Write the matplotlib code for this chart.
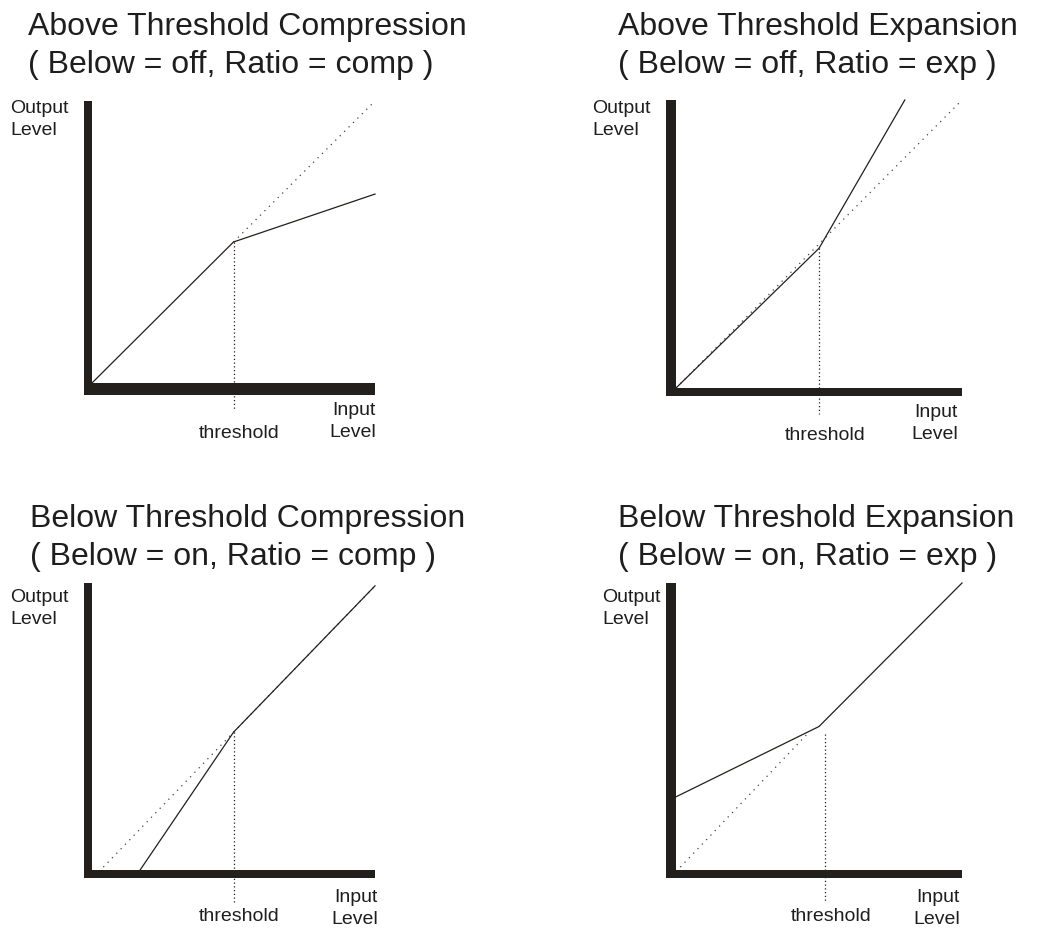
import matplotlib
matplotlib.use("Agg")
import matplotlib.pyplot as plt
from matplotlib.patches import Rectangle

# transfer-curve data, in 0..10 units (input level, output level)
titles = ["Above Threshold Compression", "Above Threshold Expansion",
          "Below Threshold Compression", "Below Threshold Expansion"]
subtitles = ["( Below = off, Ratio = comp )", "( Below = off, Ratio = exp )",
             "( Below = on, Ratio = comp )", "( Below = on, Ratio = exp )"]

curve_x = [[0, 5, 10], [0, 5, 8], [1.7, 5, 10], [0, 5, 10]]
curve_y = [[0, 5, 6.7], [0, 4.85, 10], [0, 4.8, 9.9], [2.55, 5, 10]]

ref_x = [[5, 10], [0, 10], [0.4, 5, 10], [0.15, 4.65]]
ref_y = [[5, 10], [0, 10], [0.1, 4.8, 9.9], [0.1, 4.8]]

thresh_x = [5, 5, 5, 5.2]
thresh_top = [5, 4.85, 4.8, 4.75]
thresh_bottom = [-0.95, -0.9, -1.1, -1.1]

W, H = 1059, 930
INK = "#231f1c"
TXT = "#1e1e1e"

# plot areas in pixels: left, top, right, bottom (inner edge of the bars)
boxes = [(92, 101, 375, 383), (676, 100, 962, 388),
         (92, 583, 375, 870), (676, 583, 962, 870)]
bar_v = [8, 10, 8, 10]     # vertical bar width px
bar_h = [12, 8, 8, 8]      # horizontal bar width px
title_xy = [(28, 35), (618, 35), (30, 527), (618, 527)]
output_xy = [(10, 113), (592, 113), (10, 602), (602, 602)]
thresh_lbl_y = [438, 440, 921, 921]
input_xy = [(376, 415), (958, 417), (378, 902), (960, 902)]

plt.rcParams['font.family'] = ['Liberation Sans', 'DejaVu Sans']
fig = plt.figure(figsize=(W / 100, H / 100), dpi=100)


def fx(x):
    return x / W


def fy(y):
    return 1 - y / H


for i in range(4):
    l, t, r, b = boxes[i]
    ax = fig.add_axes([fx(l), fy(b), (r - l) / W, (b - t) / H])
    ax.set_xlim(0, 10)
    ax.set_ylim(0, 10)
    ax.axis('off')
    sx = (r - l) / 10.0
    sy = (b - t) / 10.0
    wv = bar_v[i] / sx
    wh = bar_h[i] / sy
    ax.add_patch(Rectangle((-wv, -wh), wv, 10 + wh, color=INK, lw=0, clip_on=False))
    ax.add_patch(Rectangle((-wv, -wh), 10 + wv, wh, color=INK, lw=0, clip_on=False))

    # reference 1:1 line (dotted) and the actual curve
    ax.plot(ref_x[i], ref_y[i], color="#444444", lw=0.9, ls=(0, (1, 4)), clip_on=False)
    ax.plot(curve_x[i], curve_y[i], color=INK, lw=0.9, clip_on=False)
    ax.plot([thresh_x[i], thresh_x[i]], [thresh_top[i], thresh_bottom[i]],
            color=INK, lw=0.9, ls=(0, (1, 2)), clip_on=False)

    tx, ty = title_xy[i]
    fig.text(fx(tx), fy(ty), titles[i], fontsize=23, color=TXT, va='baseline')
    fig.text(fx(tx), fy(ty + 38), subtitles[i], fontsize=23, color=TXT, va='baseline')

    ox, oy = output_xy[i]
    fig.text(fx(ox), fy(oy), "Output", fontsize=14, color=TXT, va='baseline')
    fig.text(fx(ox), fy(oy + 22), "Level", fontsize=14, color=TXT, va='baseline')

    cx = l + thresh_x[i] * sx + 6
    fig.text(fx(cx), fy(thresh_lbl_y[i]), "threshold", fontsize=14, color=TXT,
             va='baseline', ha='center')
    ix, iy = input_xy[i]
    fig.text(fx(ix), fy(iy), "Input", fontsize=14, color=TXT, va='baseline', ha='right')
    fig.text(fx(ix), fy(iy + 22), "Level", fontsize=14, color=TXT, va='baseline', ha='right')

fig.savefig("out.png", dpi=100, facecolor="white")
